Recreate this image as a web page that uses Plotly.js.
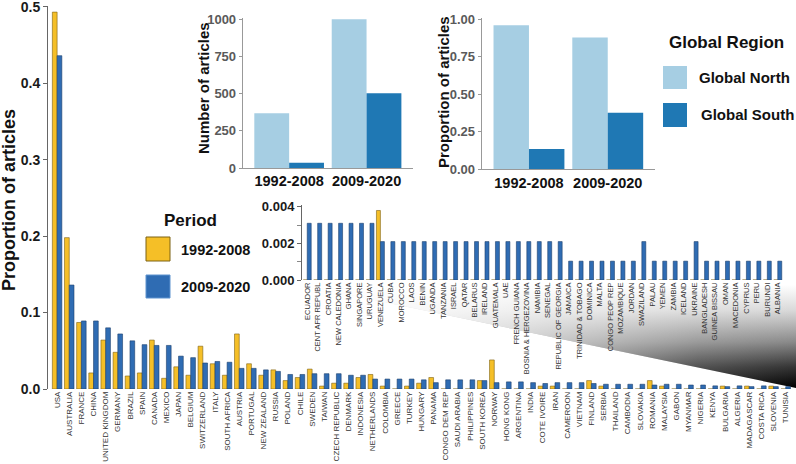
<!DOCTYPE html>
<html>
<head>
<meta charset="utf-8">
<script src="https://cdn.plot.ly/plotly-3.0.1.min.js"></script>
<style>html,body{margin:0;padding:0;background:#fff;}#chart{width:796px;height:464px;}</style>
</head>
<body>
<div id="chart"></div>
<script>
// ---------------- DATA ----------------
const periods = ['1992-2008', '2009-2020'];

const mainCountries = ['USA','AUSTRALIA','FRANCE','CHINA','UNITED KINGDOM','GERMANY','BRAZIL','SPAIN','CANADA','MEXICO',
  'JAPAN','BELGIUM','SWITZERLAND','ITALY','SOUTH AFRICA','AUSTRIA','PORTUGAL','NEW ZEALAND','RUSSIA','POLAND',
  'CHILE','SWEDEN','TAIWAN','CZECH REPUBLIC','DENMARK','INDONESIA','NETHERLANDS','COLOMBIA','GREECE','TURKEY',
  'HUNGARY','PANAMA','CONGO DEM REP','SAUDI ARABIA','PHILIPPINES','SOUTH KOREA','NORWAY','HONG KONG','ARGENTINA','INDIA',
  'COTE IVOIRE','IRAN','CAMEROON','VIETNAM','FINLAND','SERBIA','THAILAND','CAMBODIA','SLOVAKIA','ROMANIA',
  'MALAYSIA','GABON','MYANMAR','NIGERIA','KENYA','BULGARIA','ALGERIA','MADAGASCAR','COSTA RICA','SLOVENIA','TUNISIA'];

const main1992 = [0.493,0.198,0.087,0.021,0.064,0.048,0.017,0.021,0.064,0.014,
  0.029,0.018,0.056,0.033,0.018,0.072,0.033,0.018,0.025,0.011,
  0.015,0.026,0.0038,0.0076,0.0076,0.015,0.019,0.0038,0,0.0038,
  0.0076,0.015,0,0,0,0.011,0.038,0,0,0,
  0.0038,0.0038,0,0,0.011,0.0038,0,0,0,0.011,
  0.0038,0,0,0,0,0.0038,0,0.0038,0,0.0038,0];

const main2009 = [0.436,0.136,0.089,0.089,0.080,0.072,0.063,0.058,0.057,0.057,
  0.043,0.041,0.034,0.036,0.035,0.027,0.027,0.025,0.023,0.019,
  0.019,0.020,0.020,0.020,0.018,0.018,0.013,0.013,0.013,0.013,
  0.012,0.0083,0.012,0.012,0.012,0.011,0.0083,0.0093,0.0093,0.0083,
  0.0072,0.0083,0.0083,0.0083,0.0072,0.0062,0.0062,0.0062,0.0062,0.0052,
  0.0062,0.0062,0.0052,0.0052,0.0041,0.0031,0.0041,0.0031,0.0041,0.0031,0.0031];

const insetCountries = ['ECUADOR','CENT AFR REPUBL','CROATIA','NEW CALEDONIA','GHANA','SINGAPORE','URUGUAY','VENEZUELA',
  'CUBA','MOROCCO','LAOS','BENIN','UGANDA','TANZANIA','ISRAEL','QATAR','BELARUS','IRELAND','GUATEMALA','UAE',
  'FRENCH GUIANA','BOSNIA & HERGEZOVINA','NAMIBIA','SENEGAL','REPUBLIC OF GEORGIA','JAMAICA','TRINIDAD & TOBAGO',
  'DOMINICA','MALTA','CONGO PEOP REP','MOZAMBIQUE','JORDAN','SWAZILAND','PALAU','YEMEN','ZAMBIA','ICELAND','UKRAINE',
  'BANGLADESH','GUINEA BISSAU','OMAN','MACEDONIA','CYPRUS','PERU','BURUNDI','ALBANIA'];

const inset1992 = [0,0,0,0,0,0,0,0.0038,
  0,0,0,0,0,0,0,0,0,0,0,0,
  0,0,0,0,0,0,0,
  0,0,0,0,0,0,0,0,0,0,0,
  0,0,0,0,0,0,0,0];

const inset2009 = [0.0031,0.0031,0.0031,0.0031,0.0031,0.0031,0.0031,0.0021,
  0.0021,0.0021,0.0021,0.0021,0.0021,0.0021,0.0021,0.0021,0.0021,0.0021,0.0021,0.0021,
  0.0021,0.0021,0.0021,0.0021,0.0021,0.00103,0.00103,
  0.00103,0.00103,0.00103,0.00103,0.00103,0.0021,0.00103,0.00103,0.00103,0.00103,0.0021,
  0.00103,0.00103,0.00103,0.00103,0.00103,0.00103,0.00103,0.00103];

const northCount = [368, 1000];
const southCount = [36, 502];
const northProp = [0.96, 0.878];
const southProp = [0.135, 0.377];

// ---------------- STYLE ----------------
const W = 796, H = 464;
const FONT = 'Liberation Sans, Arial, Helvetica, sans-serif';
const YEL = '#F5BF27', YEL_LINE = '#7d6214';
const BLU = '#2F6CB3', BLU_LINE = '#1d3f6b';
const LBLU = '#A6CEE3', DBLU = '#1F78B4';
const px = x => x / W;
const py = y => 1 - y / H;

// decorative zoom-callout wedge (pixel geometry): from inset base to the end of the main axis
const wedge = {x: [302, 796, 796, 302], y: [285, 285, 388, 285]};

const traces = [
  {type: 'scatter', xaxis: 'x', yaxis: 'y', x: wedge.x, y: wedge.y, mode: 'none', fill: 'toself',
   fillgradient: {type: 'vertical', colorscale: [[0, '#000000'], [0.2, '#333333'], [0.45, '#8a8a8a'], [0.75, '#d8d8d8'], [1, '#ffffff']]},
   hoverinfo: 'skip', showlegend: false},
  {type: 'scatter', xaxis: 'x', yaxis: 'y', x: wedge.x, y: wedge.y, mode: 'none', fill: 'toself',
   fillgradient: {type: 'horizontal', colorscale: [[0, 'rgba(255,255,255,1)'], [0.45, 'rgba(255,255,255,0.6)'], [0.8, 'rgba(255,255,255,0.15)'], [1, 'rgba(255,255,255,0)']]},
   hoverinfo: 'skip', showlegend: false},

  {type: 'bar', xaxis: 'x2', yaxis: 'y2', x: mainCountries, y: main1992, name: periods[0],
   offset: -0.39, width: 0.39, marker: {color: YEL, line: {color: YEL_LINE, width: 0.6}}, showlegend: false},
  {type: 'bar', xaxis: 'x2', yaxis: 'y2', x: mainCountries, y: main2009, name: periods[1],
   offset: 0, width: 0.39, marker: {color: BLU, line: {color: BLU_LINE, width: 0.6}}, showlegend: false},

  {type: 'bar', xaxis: 'x3', yaxis: 'y3', x: insetCountries, y: inset1992, name: periods[0],
   offset: -0.38, width: 0.38, marker: {color: YEL, line: {color: YEL_LINE, width: 0.6}}, showlegend: false},
  {type: 'bar', xaxis: 'x3', yaxis: 'y3', x: insetCountries, y: inset2009, name: periods[1],
   offset: 0, width: 0.38, marker: {color: BLU, line: {color: BLU_LINE, width: 0.6}}, showlegend: false},

  {type: 'bar', xaxis: 'x4', yaxis: 'y4', x: periods, y: northCount, name: 'Global North',
   offset: -0.45, width: 0.45, marker: {color: LBLU}, showlegend: false},
  {type: 'bar', xaxis: 'x4', yaxis: 'y4', x: periods, y: southCount, name: 'Global South',
   offset: 0, width: 0.45, marker: {color: DBLU}, showlegend: false},

  {type: 'bar', xaxis: 'x5', yaxis: 'y5', x: periods, y: northProp, name: 'Global North',
   offset: -0.45, width: 0.45, marker: {color: LBLU}, showlegend: false},
  {type: 'bar', xaxis: 'x5', yaxis: 'y5', x: periods, y: southProp, name: 'Global South',
   offset: 0, width: 0.45, marker: {color: DBLU}, showlegend: false}
];

const boldTick = (size, color) => ({family: FONT, size: size, color: color, weight: 'bold'});

const layout = {
  width: W, height: H,
  margin: {l: 0, r: 0, t: 0, b: 0, pad: 0},
  paper_bgcolor: '#ffffff', plot_bgcolor: 'rgba(0,0,0,0)',
  barmode: 'overlay', hovermode: false, showlegend: false,
  font: {family: FONT, color: '#222'},

  xaxis: {domain: [0, 1], range: [0, W], visible: false, fixedrange: true},
  yaxis: {domain: [0, 1], range: [H, 0], visible: false, fixedrange: true},

  xaxis2: {domain: [px(48), px(793)], anchor: 'y2', type: 'category', range: [-0.75, 60.6],
    tickangle: -90, tickfont: {family: FONT, size: 8, color: '#333'}, ticks: '', showline: false,
    showgrid: false, zeroline: false, automargin: false},
  yaxis2: {domain: [py(389), py(6)], anchor: 'x2', range: [0, 0.501],
    tickvals: [0, 0.1, 0.2, 0.3, 0.4, 0.5], ticktext: ['0.0', '0.1', '0.2', '0.3', '0.4', '0.5'],
    tickfont: boldTick(14, '#1a1a1a'), ticks: 'outside', ticklen: 4, tickcolor: '#666', ticklabeloverflow: 'allow',
    showline: true, linecolor: '#666', linewidth: 1, showgrid: false, zeroline: false, automargin: false},

  xaxis3: {domain: [px(302), px(783)], anchor: 'y3', type: 'category',
    tickangle: -90, tickfont: {family: FONT, size: 7.5, color: '#333'}, ticks: '', showline: false,
    showgrid: false, zeroline: false, automargin: false},
  yaxis3: {domain: [py(280), py(205)], anchor: 'x3', range: [0, 0.0041],
    tickvals: [0, 0.002, 0.004], ticktext: ['0.000', '0.002', '0.004'],
    tickfont: boldTick(13, '#1a1a1a'), ticks: 'outside', ticklen: 4, tickcolor: '#666',
    minor: {tickvals: [0.001, 0.003], ticks: 'outside', ticklen: 4, tickcolor: '#888'},
    showline: true, linecolor: '#666', linewidth: 1, showgrid: false, zeroline: false, automargin: false},

  xaxis4: {domain: [px(242.7), px(413)], anchor: 'y4', type: 'category', range: [-0.6, 1.6],
    tickfont: boldTick(14.5, '#111'), ticks: '', showline: true, linecolor: '#999', linewidth: 1,
    showgrid: false, zeroline: false, automargin: false},
  yaxis4: {domain: [py(168), py(18)], anchor: 'x4', range: [0, 1008.7],
    tickvals: [0, 250, 500, 750, 1000], ticklabeloverflow: 'allow',
    tickfont: boldTick(13, '#5a5a5a'), ticks: 'outside', ticklen: 3, tickcolor: '#999',
    showline: true, linecolor: '#999', linewidth: 1, showgrid: false, zeroline: false, automargin: false},

  xaxis5: {domain: [px(481.7), px(655)], anchor: 'y5', type: 'category', range: [-0.6, 1.6],
    tickfont: boldTick(14.5, '#111'), ticks: '', showline: true, linecolor: '#999', linewidth: 1,
    showgrid: false, zeroline: false, automargin: false},
  yaxis5: {domain: [py(169.3), py(18)], anchor: 'x5', range: [0, 1.0087],
    tickvals: [0, 0.25, 0.5, 0.75, 1], ticktext: ['0.00', '0.25', '0.50', '0.75', '1.00'], ticklabeloverflow: 'allow',
    tickfont: boldTick(13, '#5a5a5a'), ticks: 'outside', ticklen: 3, tickcolor: '#999',
    showline: true, linecolor: '#999', linewidth: 1, showgrid: false, zeroline: false, automargin: false},

  shapes: [
    {type: 'rect', xref: 'paper', yref: 'paper', x0: px(146), x1: px(170), y0: py(261), y1: py(237),
     fillcolor: YEL, line: {color: YEL_LINE, width: 1}},
    {type: 'rect', xref: 'paper', yref: 'paper', x0: px(146), x1: px(170), y0: py(298), y1: py(275),
     fillcolor: BLU, line: {color: '#5f93cf', width: 1}},
    {type: 'rect', xref: 'paper', yref: 'paper', x0: px(663), x1: px(687), y0: py(89), y1: py(66),
     fillcolor: LBLU, line: {width: 0}},
    {type: 'rect', xref: 'paper', yref: 'paper', x0: px(663), x1: px(687), y0: py(127), y1: py(103),
     fillcolor: DBLU, line: {width: 0}}
  ],

  annotations: [
    {text: 'Proportion of articles', xref: 'paper', yref: 'paper', x: px(9), y: py(200), textangle: -90,
     showarrow: false, xanchor: 'center', yanchor: 'middle', font: {family: FONT, size: 18, color: '#111', weight: 'bold'}},
    {text: 'Number of articles', xref: 'paper', yref: 'paper', x: px(203), y: py(88), textangle: -90,
     showarrow: false, xanchor: 'center', yanchor: 'middle', font: {family: FONT, size: 15, color: '#111', weight: 'bold'}},
    {text: 'Proportion of articles', xref: 'paper', yref: 'paper', x: px(443), y: py(92), textangle: -90,
     showarrow: false, xanchor: 'center', yanchor: 'middle', font: {family: FONT, size: 15, color: '#111', weight: 'bold'}},

    {text: 'Period', xref: 'paper', yref: 'paper', x: px(162), y: py(220), showarrow: false,
     xanchor: 'left', yanchor: 'middle', font: {family: FONT, size: 17, color: '#111', weight: 'bold'}},
    {text: periods[0], xref: 'paper', yref: 'paper', x: px(179), y: py(250), showarrow: false,
     xanchor: 'left', yanchor: 'middle', font: {family: FONT, size: 14.5, color: '#111', weight: 'bold'}},
    {text: periods[1], xref: 'paper', yref: 'paper', x: px(179), y: py(287), showarrow: false,
     xanchor: 'left', yanchor: 'middle', font: {family: FONT, size: 14.5, color: '#111', weight: 'bold'}},

    {text: 'Global Region', xref: 'paper', yref: 'paper', x: px(667), y: py(43), showarrow: false,
     xanchor: 'left', yanchor: 'middle', font: {family: FONT, size: 17, color: '#111', weight: 'bold'}},
    {text: 'Global North', xref: 'paper', yref: 'paper', x: px(697), y: py(77), showarrow: false,
     xanchor: 'left', yanchor: 'middle', font: {family: FONT, size: 15, color: '#111', weight: 'bold'}},
    {text: 'Global South', xref: 'paper', yref: 'paper', x: px(699), y: py(114), showarrow: false,
     xanchor: 'left', yanchor: 'middle', font: {family: FONT, size: 15, color: '#111', weight: 'bold'}}
  ]
};

Plotly.newPlot('chart', traces, layout, {staticPlot: true, displayModeBar: false});
</script>
</body>
</html>
